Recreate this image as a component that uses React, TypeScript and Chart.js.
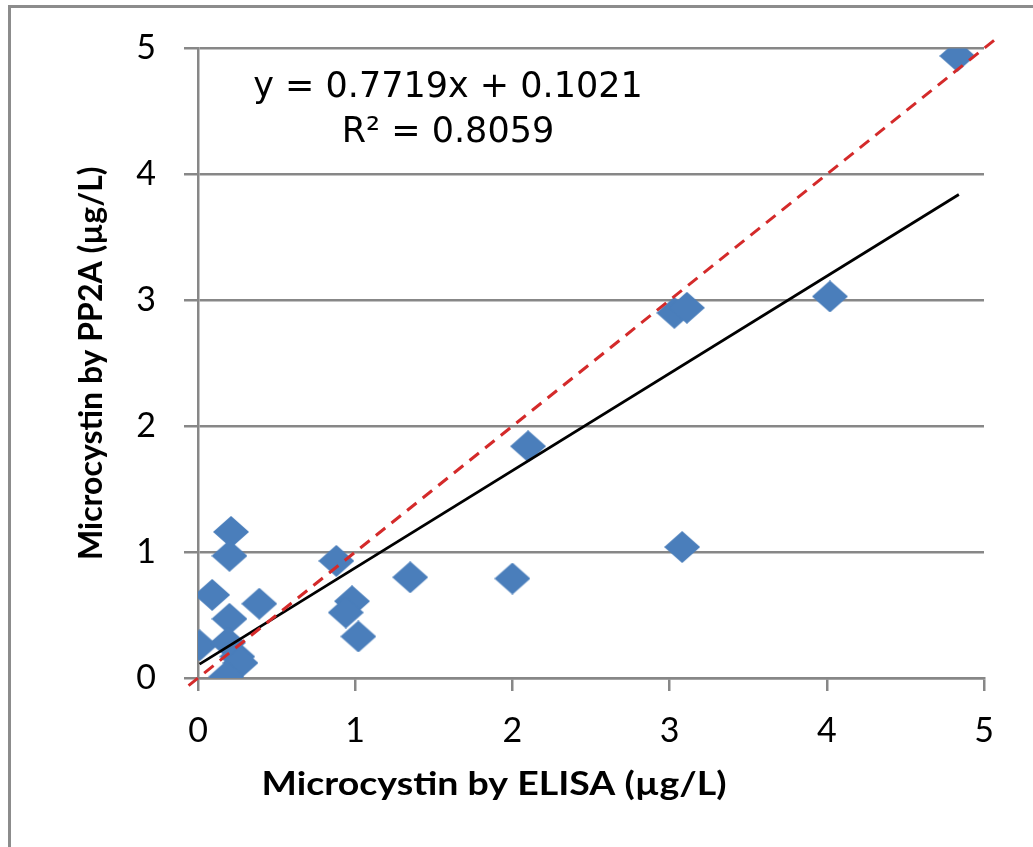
import React, { useEffect, useRef } from "react";
import { Chart, registerables } from "chart.js";

Chart.register(...registerables);

// ELISA (x) vs PP2A (y) microcystin values
const elisaValues = [4.83, 3.03, 3.11, 4.02, 2.10, 3.08, 2.00, 1.35, 0.88, 0.98, 0.94, 1.02, 0.39, 0.21, 0.20, 0.09, 0.20, 0.01, 0.19, 0.25, 0.27, 0.18];
const pp2aValues = [4.94, 2.90, 2.94, 3.03, 1.84, 1.04, 0.79, 0.80, 0.93, 0.61, 0.52, 0.33, 0.59, 1.16, 0.97, 0.66, 0.47, 0.26, 0.28, 0.17, 0.12, 0.01];

// linear trendline endpoints (y = 0.7719x + 0.1021)
const trendX = [0.01, 4.84];
const trendY = [0.11, 3.84];

// 1:1 reference line endpoints
const oneToOneX = [-0.06, 5.1];
const oneToOneY = [-0.06, 5.1];

const tickValues = [0, 1, 2, 3, 4, 5];

const equationText = "y = 0.7719x + 0.1021";
const r2Text = "R\u00B2 = 0.8059";
const xTitle = "Microcystin by ELISA (\u00B5g/L)";
const yTitle = "Microcystin by PP2A (\u00B5g/L)";

function makeDiamond(): HTMLCanvasElement {
  const c = document.createElement("canvas");
  const w = 36;
  const h = 32;
  c.width = w;
  c.height = h;
  const g = c.getContext("2d")!;
  g.fillStyle = "#4A7EBB";
  g.beginPath();
  g.moveTo(w / 2, 0);
  g.lineTo(w, h / 2);
  g.lineTo(w / 2, h);
  g.lineTo(0, h / 2);
  g.closePath();
  g.fill();
  return c;
}

const GRID = "#878787";

export default function App() {
  const ref = useRef<HTMLCanvasElement | null>(null);

  useEffect(() => {
    document.body.style.margin = "0";
    const canvas = ref.current;
    if (!canvas) return;
    const diamond = makeDiamond();

    const decor = {
      id: "decor",
      beforeDraw(chart: any) {
        const ctx = chart.ctx;
        ctx.save();
        ctx.fillStyle = "#ffffff";
        ctx.fillRect(0, 0, chart.width, chart.height);
        ctx.strokeStyle = "#8c8c8c";
        ctx.lineWidth = 3;
        ctx.beginPath();
        ctx.moveTo(9.5, 847);
        ctx.lineTo(9.5, 6.5);
        ctx.lineTo(1033, 6.5);
        ctx.stroke();
        ctx.restore();
      },
      afterDraw(chart: any) {
        const ctx = chart.ctx;
        const a = chart.chartArea;
        ctx.save();
        ctx.fillStyle = "#000000";
        ctx.textAlign = "center";
        ctx.textBaseline = "middle";
        // x-axis title, stretched to the reference's width
        ctx.font = "bold 33px Lato";
        const w = ctx.measureText(xTitle).width;
        ctx.save();
        ctx.translate(a.left + 296, a.bottom + 106);
        ctx.scale(465 / w, 1);
        ctx.fillText(xTitle, 0, 0);
        ctx.restore();
        // y-axis title
        ctx.font = "bold 32px Lato";
        ctx.save();
        ctx.translate(92, (a.top + a.bottom) / 2);
        ctx.rotate(-Math.PI / 2);
        ctx.fillText(yTitle, 0, 0);
        ctx.restore();
        // trendline label
        ctx.font = '35px "DejaVu Sans"';
        ctx.fillText(equationText, a.left + 250, a.top + 40);
        ctx.fillText(r2Text, a.left + 250, a.top + 85);
        ctx.restore();
      },
    };

    const chart = new Chart(canvas, {
      type: "scatter",
      data: {
        datasets: [
          {
            type: "line",
            label: "1:1",
            data: oneToOneX.map((x, i) => ({ x, y: oneToOneY[i] })),
            borderColor: "#D42A2A",
            borderWidth: 3,
            borderDash: [12, 8],
            pointRadius: 0,
            fill: false,
            clip: false as any,
          },
          {
            type: "line",
            label: "Linear",
            data: trendX.map((x, i) => ({ x, y: trendY[i] })),
            borderColor: "#000000",
            borderWidth: 2.75,
            pointRadius: 0,
            fill: false,
          },
          {
            label: "PP2A",
            data: elisaValues.map((x, i) => ({ x, y: pp2aValues[i] })),
            pointStyle: diamond as any,
            pointRadius: 18,
            backgroundColor: "#4A7EBB",
            borderWidth: 0,
          },
        ],
      },
      options: {
        responsive: false,
        animation: false,
        layout: { padding: { top: 48, right: 49, left: 0, bottom: 0 } },
        plugins: {
          legend: { display: false },
          tooltip: { enabled: false },
        },
        scales: {
          x: {
            type: "linear",
            min: 0,
            max: 5,
            afterBuildTicks: (s: any) => {
              s.ticks = tickValues.map((v) => ({ value: v }));
            },
            afterFit: (s: any) => {
              s.height = 169;
            },
            ticks: {
              font: { family: "Lato", size: 34 },
              color: "#000000",
              padding: 20,
            },
            grid: {
              drawOnChartArea: false,
              drawTicks: true,
              tickLength: 13,
              color: GRID,
              lineWidth: 2.5,
            },
            border: { display: true, color: GRID, width: 2.5 },
          },
          y: {
            type: "linear",
            min: 0,
            max: 5,
            afterBuildTicks: (s: any) => {
              s.ticks = tickValues.map((v) => ({ value: v }));
            },
            afterFit: (s: any) => {
              s.width = 198;
            },
            ticks: {
              font: { family: "Lato", size: 34 },
              color: "#000000",
              padding: 28,
            },
            grid: {
              drawOnChartArea: true,
              drawTicks: true,
              tickLength: 14,
              color: GRID,
              lineWidth: 2.5,
            },
            border: { display: true, color: GRID, width: 2.5 },
          },
        },
      },
      plugins: [decor],
    });

    return () => chart.destroy();
  }, []);

  return (
    <div style={{ width: 1033, height: 847 }}>
      <canvas ref={ref} width={1033} height={847} style={{ display: "block", width: 1033, height: 847 }} />
    </div>
  );
}
